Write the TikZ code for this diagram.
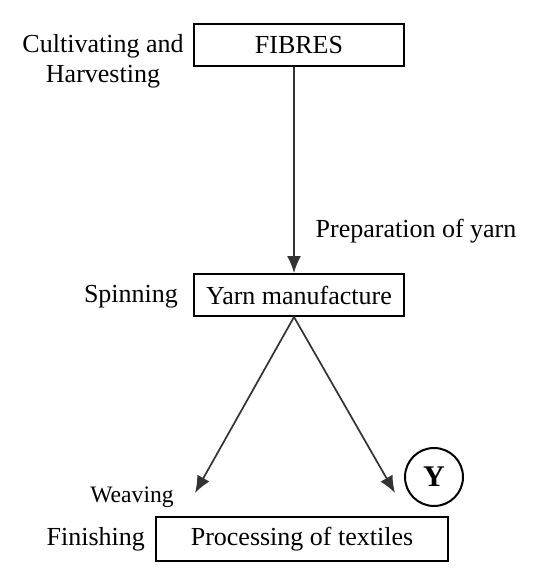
\documentclass[tikz,border=0pt]{standalone}
\usepackage{fontspec}
\setmainfont{Liberation Serif}
\usetikzlibrary{positioning, arrows.meta}

\begin{document}
\begin{tikzpicture}[x=0.5pt, y=-0.5pt, node distance=125pt, on grid,
    font=\fontsize{13}{15}\selectfont,
    >={Latex[length=8.5pt,width=7pt]},
    box/.style={draw, line width=1pt, minimum width=105pt, minimum height=21pt, inner sep=0pt},
    flow/.style={->, line width=0.85pt, draw=black!80}]
   \useasboundingbox (0,0) rectangle (547,588);

   \node[box] (fibres) at (299,45) {FIBRES};
   \node[box] (yarn) [below=of fibres] {Yarn manufacture};
   \node[box, minimum width=146pt, minimum height=22pt] (textiles) at (302,539) {Processing of textiles};

   % side labels
   \node[align=center] (cultivate) at (103,61) {Cultivating and\\Harvesting};
   \node (prep) at (416,231) {Preparation of yarn};
   \node[anchor=east] (spinning) at ([xshift=-4pt,yshift=-1pt]yarn.west) {Spinning};
   \node[font=\fontsize{11.8}{14}\selectfont] (weaving) at (132,497) {Weaving};
   \node[anchor=east] (finishing) at ([xshift=-1.5pt]textiles.west) {Finishing};
   \node[draw, circle, line width=1pt, minimum size=29pt, inner sep=0pt, font=\fontsize{15}{17}\selectfont\bfseries] (y) at (434,477) {Y};

   \coordinate (weavetip) at (195,493);
   \coordinate (finishtip) at (395,493);

   \draw[flow] ([xshift=-2.5pt]fibres.south) -- ([xshift=-2.5pt]yarn.north);
   \draw[flow] ([xshift=-2.5pt]yarn.south) -- (weavetip);
   \draw[flow] ([xshift=-2.5pt]yarn.south) -- (finishtip);
\end{tikzpicture}
\end{document}
